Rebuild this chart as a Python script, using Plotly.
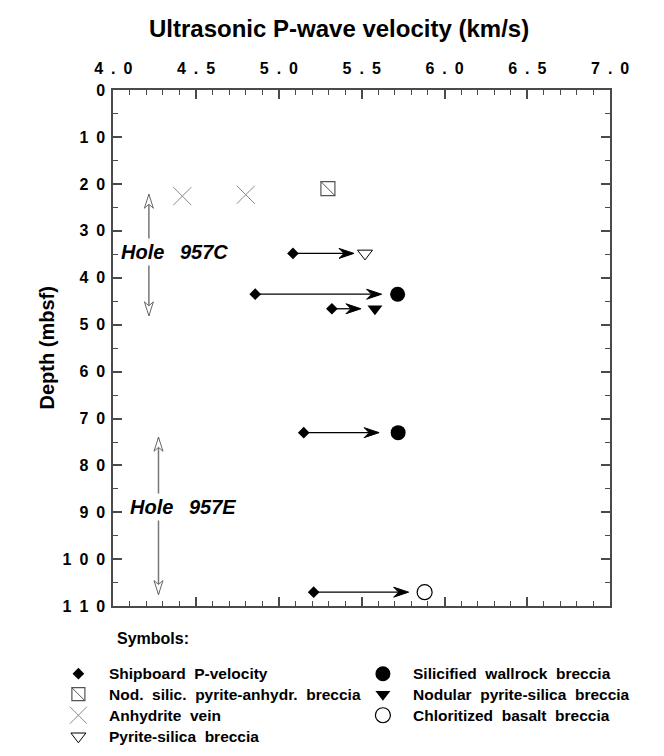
import plotly.graph_objects as go

# ---------------- data ----------------
x_tick_vals = [4.0, 4.5, 5.0, 5.5, 6.0, 6.5, 7.0]
x_tick_labels = ["4.0", "4.5", "5.0", "5.5", "6.0", "6.5", "7.0"]
y_tick_vals = [0, 10, 20, 30, 40, 50, 60, 70, 80, 90, 100, 110]
y_tick_labels = ["0", "10", "20", "30", "40", "50", "60", "70", "80", "90", "100", "110"]

# shipboard P-velocity (start of arrows)
ship_v = [5.085, 4.857, 5.32, 5.15, 5.21]
ship_d = [34.8, 43.5, 46.6, 73.0, 107.0]
# ultrasonic velocity of the same samples (end of arrows)
ultra_v = [5.52, 5.717, 5.58, 5.72, 5.88]
ultra_d = [34.8, 43.5, 46.6, 73.0, 107.0]

# samples by lithology (ultrasonic)
anhy_v = [4.417, 4.80]
anhy_d = [22.6, 22.3]
nodsil_v = [5.296]
nodsil_d = [21.0]
pyrsil_v = [5.52]
pyrsil_d = [34.8]
silic_v = [5.717, 5.72]
silic_d = [43.5, 73.0]
nodular_v = [5.58]
nodular_d = [46.6]
chlor_v = [5.88]
chlor_d = [107.0]

# hole intervals
hole_names = ["Hole  957C", "Hole  957E"]
hole_x = [4.215, 4.273]
hole_top = [22.2, 74.0]
hole_bot = [48.1, 107.5]
hole_text_x = [4.37, 4.42]
hole_text_d = [34.6, 88.8]

# legend
legend_col1 = ["Shipboard  P-velocity", "Nod.  silic.  pyrite-anhydr.  breccia",
               "Anhydrite  vein", "Pyrite-silica  breccia"]
legend_col2 = ["Silicified  wallrock  breccia", "Nodular  pyrite-silica  breccia",
               "Chloritized  basalt  breccia"]

# ---------------- styling / layout ----------------
W, H = 664, 756
PL, PR, PT, PB = 100, 627, 84, 612
FONT = "Liberation Sans, Arial, Helvetica, sans-serif"
AX = "#4a4a4a"
GRAY_X = "#8a8a8a"
ENSP = "\u2002"
NB = "\u00a0"


def spaced(s):
    return ENSP.join(list(s))


def nbsp(s):
    return s.replace("  ", NB + " ")


fig = go.Figure()

# hole interval shafts
hx, hy = [], []
for x, t, b in zip(hole_x, hole_top, hole_bot):
    hx += [x, x, None]
    hy += [t, b, None]
fig.add_trace(go.Scatter(x=hx, y=hy, mode="lines", line=dict(color="#777777", width=1.5),
                         hoverinfo="skip", cliponaxis=False))

# arrows shipboard -> ultrasonic
PPU = (PR - PL) / (x_tick_vals[-1] - x_tick_vals[0])  # px per km/s
gap_px = [11, 16, 14, 19, 16]
HEAD_L, NOTCH = 15, 10
ax_, ay_ = [], []
for sv, sd, uv, ud, g in zip(ship_v, ship_d, ultra_v, ultra_d, gap_px):
    ax_ += [sv, uv - (g + NOTCH) / PPU, None]
    ay_ += [sd, ud, None]
fig.add_trace(go.Scatter(x=ax_, y=ay_, mode="lines", line=dict(color="black", width=1.3),
                         hoverinfo="skip", cliponaxis=False))

shapes = []
for uv, ud, g in zip(ultra_v, ultra_d, gap_px):
    path = (f"M{-g},0 L{-g - HEAD_L},5 L{-g - NOTCH},0 L{-g - HEAD_L},-5 Z")
    shapes.append(dict(type="path", xref="x", yref="y", xsizemode="pixel", ysizemode="pixel",
                       xanchor=uv, yanchor=ud, path=path, fillcolor="black",
                       line=dict(color="black", width=1)))
# open hole arrowheads
for x, t, b in zip(hole_x, hole_top, hole_bot):
    shapes.append(dict(type="path", xref="x", yref="y", xsizemode="pixel", ysizemode="pixel",
                       xanchor=x, yanchor=t, path="M0,0 L-4.5,-14 L0,-10 L4.5,-14 Z",
                       fillcolor="white", line=dict(color="#666666", width=1)))
    shapes.append(dict(type="path", xref="x", yref="y", xsizemode="pixel", ysizemode="pixel",
                       xanchor=x, yanchor=b, path="M0,0 L-4.5,14 L0,10 L4.5,14 Z",
                       fillcolor="white", line=dict(color="#666666", width=1)))

# markers
fig.add_trace(go.Scatter(x=ship_v, y=ship_d, mode="markers", cliponaxis=False,
                         marker=dict(symbol="diamond", size=9, color="black")))
fig.add_trace(go.Scatter(x=anhy_v, y=anhy_d, mode="markers", cliponaxis=False,
                         marker=dict(symbol="x-thin-open", size=18, color=GRAY_X,
                                     line=dict(color=GRAY_X, width=1))))
fig.add_trace(go.Scatter(x=nodsil_v, y=nodsil_d, mode="markers", cliponaxis=False,
                         marker=dict(symbol="square-open", size=14, color="#555555",
                                     line=dict(color="#555555", width=1.2))))
fig.add_trace(go.Scatter(x=nodsil_v, y=nodsil_d, mode="markers", cliponaxis=False,
                         marker=dict(symbol="line-nw", size=14, color="#555555",
                                     line=dict(color="#555555", width=1))))
fig.add_trace(go.Scatter(x=pyrsil_v, y=pyrsil_d, mode="markers", cliponaxis=False,
                         marker=dict(symbol="triangle-down-open", size=13, color="black",
                                     line=dict(color="black", width=1))))
fig.add_trace(go.Scatter(x=silic_v, y=silic_d, mode="markers", cliponaxis=False,
                         marker=dict(symbol="circle", size=15, color="black")))
fig.add_trace(go.Scatter(x=nodular_v, y=nodular_d, mode="markers", cliponaxis=False,
                         marker=dict(symbol="triangle-down", size=13, color="black")))
fig.add_trace(go.Scatter(x=chlor_v, y=chlor_d, mode="markers", cliponaxis=False,
                         marker=dict(symbol="circle-open", size=15, color="black",
                                     line=dict(color="black", width=1.2))))

# ---------------- legend (pixel space on x2/y2) ----------------
ROW_Y = [681, 702, 723.5, 745]
C1_SYM, C1_TXT = 63, 93
C2_SYM, C2_TXT = 386, 416
leg1_syms = [dict(symbol="diamond", size=9, color="black"),
             dict(symbol="square-open", size=13, color="#555555", line=dict(color="#555555", width=1.2)),
             dict(symbol="x-thin-open", size=17, color=GRAY_X, line=dict(color=GRAY_X, width=1)),
             dict(symbol="triangle-down-open", size=13, color="black", line=dict(color="black", width=1))]
leg2_syms = [dict(symbol="circle", size=15, color="black"),
             dict(symbol="triangle-down", size=13, color="black"),
             dict(symbol="circle-open", size=15, color="black", line=dict(color="black", width=1.2))]
for i, m in enumerate(leg1_syms):
    fig.add_trace(go.Scatter(x=[C1_SYM], y=[ROW_Y[i]], xaxis="x2", yaxis="y2", mode="markers",
                             marker=m, cliponaxis=False, hoverinfo="skip"))
fig.add_trace(go.Scatter(x=[C1_SYM], y=[ROW_Y[1]], xaxis="x2", yaxis="y2", mode="markers",
                         marker=dict(symbol="line-nw", size=13, color="#555555",
                                     line=dict(color="#555555", width=1)),
                         cliponaxis=False, hoverinfo="skip"))
for i, m in enumerate(leg2_syms):
    fig.add_trace(go.Scatter(x=[C2_SYM], y=[ROW_Y[i]], xaxis="x2", yaxis="y2", mode="markers",
                             marker=m, cliponaxis=False, hoverinfo="skip"))

LEG_FONT = dict(size=15.5, family=FONT, weight="bold", color="black")
annotations = []
for i, t in enumerate(legend_col1):
    annotations.append(dict(x=C1_TXT, y=ROW_Y[i], xref="x2", yref="y2", text=nbsp(t),
                            showarrow=False, xanchor="left", yanchor="middle", font=LEG_FONT))
for i, t in enumerate(legend_col2):
    annotations.append(dict(x=C2_TXT, y=ROW_Y[i], xref="x2", yref="y2", text=nbsp(t),
                            showarrow=False, xanchor="left", yanchor="middle", font=LEG_FONT))
annotations.append(dict(x=102, y=645, xref="x2", yref="y2", text="Symbols:", showarrow=False,
                        xanchor="left", yanchor="middle",
                        font=dict(size=16, family=FONT, weight="bold", color="black")))
# titles
annotations.append(dict(x=339, y=21, xref="x2", yref="y2", text="Ultrasonic P-wave velocity (km/s)",
                        showarrow=False, xanchor="center", yanchor="middle",
                        font=dict(size=24, family=FONT, weight="bold", color="black")))
annotations.append(dict(x=30, y=348, xref="x2", yref="y2", text="Depth (mbsf)", textangle=-90,
                        showarrow=False, xanchor="center", yanchor="middle",
                        font=dict(size=20, family=FONT, weight="bold", color="black")))
# hole labels
for name, tx, td in zip(hole_names, hole_text_x, hole_text_d):
    annotations.append(dict(x=tx, y=td, xref="x", yref="y",
                            text="<i>" + name.replace("  ", ENSP + " ") + "</i>",
                            showarrow=False, xanchor="center", yanchor="middle",
                            bgcolor="white", borderpad=2,
                            font=dict(size=20, family=FONT, weight="bold", color="black")))

tickfont = dict(size=16, family=FONT, weight="bold", color="black")
fig.update_layout(
    width=W, height=H, margin=dict(l=0, r=0, t=0, b=0),
    paper_bgcolor="white", plot_bgcolor="rgba(0,0,0,0)", showlegend=False,
    font=dict(family=FONT, color="black"),
    xaxis=dict(domain=[PL / W, PR / W], range=[x_tick_vals[0], x_tick_vals[-1]], side="top",
               anchor="y", tickmode="array", tickvals=x_tick_vals,
               ticktext=[spaced(s) for s in x_tick_labels],
               ticks="inside", ticklen=9, tickwidth=1.5, tickcolor=AX,
               showline=True, linecolor=AX, linewidth=1.6, mirror="ticks",
               minor=dict(tick0=4.0, dtick=0.1, ticks="inside", ticklen=5, tickwidth=1.2,
                          tickcolor=AX, showgrid=False),
               showgrid=False, zeroline=False, tickfont=tickfont, ticklabelstandoff=8),
    yaxis=dict(domain=[(H - PB) / H, (H - PT) / H], range=[y_tick_vals[-1], y_tick_vals[0]],
               anchor="x", tickmode="array", tickvals=y_tick_vals,
               ticktext=[spaced(s) for s in y_tick_labels],
               ticks="inside", ticklen=9, tickwidth=1.5, tickcolor=AX,
               showline=True, linecolor=AX, linewidth=1.6, mirror="ticks",
               minor=dict(tick0=0, dtick=5, ticks="inside", ticklen=5, tickwidth=1.2,
                          tickcolor=AX, showgrid=False),
               showgrid=False, zeroline=False, tickfont=tickfont, ticklabelstandoff=3),
    xaxis2=dict(domain=[0, 1], range=[0, W], anchor="y2", visible=False, fixedrange=True),
    yaxis2=dict(domain=[0, 1], range=[H, 0], anchor="x2", visible=False, fixedrange=True),
    shapes=shapes, annotations=annotations,
)

fig.write_html("out.html", config={"displayModeBar": False},
               post_script="document.body.style.margin='0';")
